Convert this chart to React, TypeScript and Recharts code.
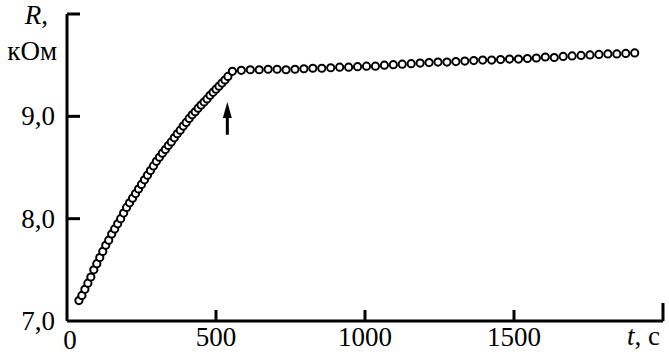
import { ScatterChart, Scatter, XAxis, YAxis, ReferenceLine, ReferenceDot } from 'recharts'

// time, s — growth stage (dense) then plateau
const riseTimes = [
  40, 50, 60, 70, 80, 90, 100, 110, 120, 130, 140, 150, 160, 170, 180, 190, 200, 210, 220, 230,
  240, 250, 260, 270, 280, 290, 300, 310, 320, 330, 340, 350, 360, 370, 380, 390, 400, 410, 420,
  430, 440, 450, 460, 470, 480, 490, 500, 510, 520, 530, 540,
]
const riseValues = [
  7.2, 7.25, 7.31, 7.37, 7.43, 7.5, 7.56, 7.62, 7.68, 7.74, 7.79, 7.85, 7.9, 7.95, 8.0, 8.055, 8.11,
  8.155, 8.2, 8.245, 8.29, 8.335, 8.38, 8.425, 8.47, 8.515, 8.56, 8.6, 8.64, 8.675, 8.715, 8.75,
  8.79, 8.83, 8.865, 8.905, 8.94, 8.98, 9.015, 9.045, 9.08, 9.11, 9.14, 9.17, 9.205, 9.235, 9.265,
  9.295, 9.325, 9.355, 9.39,
]
const flatTimes = [
  555, 585, 615, 645, 675, 705, 735, 765, 795, 825, 855, 885, 915, 945, 975, 1005, 1035, 1065,
  1095, 1125, 1155, 1185, 1215, 1245, 1275, 1305, 1335, 1365, 1395, 1425, 1455, 1485, 1515, 1545,
  1575, 1605, 1635, 1665, 1695, 1725, 1755, 1785, 1815, 1845, 1875, 1905,
]
const flatValues = [
  9.44, 9.45, 9.455, 9.455, 9.46, 9.46, 9.455, 9.46, 9.465, 9.47, 9.47, 9.475, 9.48, 9.48, 9.485,
  9.49, 9.49, 9.5, 9.505, 9.51, 9.515, 9.52, 9.525, 9.53, 9.53, 9.535, 9.54, 9.545, 9.55, 9.55,
  9.555, 9.56, 9.56, 9.565, 9.57, 9.58, 9.575, 9.585, 9.59, 9.595, 9.6, 9.605, 9.61, 9.61, 9.615,
  9.62,
]

const xTicks = [0, 500, 1000, 1500, 2000]
const yTicks = [7, 8, 9, 10]
const yTickLabels = ['7,0', '8,0', '9,0', '']

const arrowT = 538

const font = '"Liberation Serif", "Times New Roman", serif'

const points = [
  ...riseTimes.map((t, i) => ({ t, r: riseValues[i] })),
  ...flatTimes.map((t, i) => ({ t, r: flatValues[i] })),
]

// labels plus inward tick marks
function XTick(props: any) {
  const { x, y, payload } = props
  const v = payload.value
  if (v === 2000) {
    return (
      <g>
        <line x1={x} y1={y} x2={x} y2={y - 18} stroke="#000" strokeWidth={3} />
        <text x={x - 3} y={y + 24} textAnchor="end" fontFamily={font} fontSize={27} fill="#000">
          <tspan fontStyle="italic">t</tspan>, с
        </text>
      </g>
    )
  }
  return (
    <g>
      {v !== 0 && <line x1={x} y1={y} x2={x} y2={y - 11} stroke="#000" strokeWidth={3} />}
      <text x={x + (v === 0 ? 3 : 0)} y={y + (v === 0 ? 28 : 25)} textAnchor="middle" fontFamily={font} fontSize={27} fill="#000">
        {v}
      </text>
    </g>
  )
}

function YTick(props: any) {
  const { x, y, payload } = props
  const idx = yTicks.indexOf(payload.value)
  const mark = payload.value !== 7 ? <line x1={x} y1={y} x2={x + 13} y2={y} stroke="#000" strokeWidth={3} /> : null
  if (payload.value === 10) {
    return (
      <g>
        {mark}
        <text x={x - 19} y={y + 10} textAnchor="end" fontFamily={font} fontSize={27} fill="#000">
          <tspan fontStyle="italic">R</tspan>,
        </text>
        <text x={x - 10} y={y + 46} textAnchor="end" fontFamily={font} fontSize={27} fill="#000">
          кОм
        </text>
      </g>
    )
  }
  return (
    <g>
      {mark}
      <text x={x - 12} y={y + 9} textAnchor="end" fontFamily={font} fontSize={27} fill="#000">
        {yTickLabels[idx]}
      </text>
    </g>
  )
}

const Ring = (p: any) => <circle cx={p.cx} cy={p.cy} r={3.6} fill="#fff" stroke="#000" strokeWidth={2} />

const ArrowHead = (p: any) => (
  <path d={`M${p.cx},${p.cy} L${p.cx - 4.5},${p.cy + 16} L${p.cx + 4.5},${p.cy + 16} Z`} fill="#000" />
)

export default function App() {
  return (
    <div style={{ position: 'absolute', left: 0, top: 0, background: '#fff' }}>
      <ScatterChart width={669} height={359} margin={{ top: 14, right: 6, bottom: 0, left: 0 }}>
        <XAxis
          type="number"
          dataKey="t"
          domain={[0, 2000]}
          ticks={xTicks}
          interval={0}
          height={38}
          tickSize={0}
          tickMargin={0}
          tickLine={false}
          axisLine={{ stroke: '#000', strokeWidth: 3 }}
          tick={<XTick />}
        />
        <YAxis
          type="number"
          dataKey="r"
          domain={[7, 10]}
          ticks={yTicks}
          interval={0}
          width={67}
          tickSize={0}
          tickMargin={0}
          tickLine={false}
          axisLine={{ stroke: '#000', strokeWidth: 3 }}
          tick={<YTick />}
        />
        <Scatter data={points} shape={Ring} isAnimationActive={false} />
        <ReferenceLine
          segment={[
            { x: arrowT, y: 9.0 },
            { x: arrowT, y: 8.82 },
          ]}
          stroke="#000"
          strokeWidth={3}
        />
        <ReferenceDot x={arrowT} y={9.14} shape={ArrowHead} />
      </ScatterChart>
    </div>
  )
}
